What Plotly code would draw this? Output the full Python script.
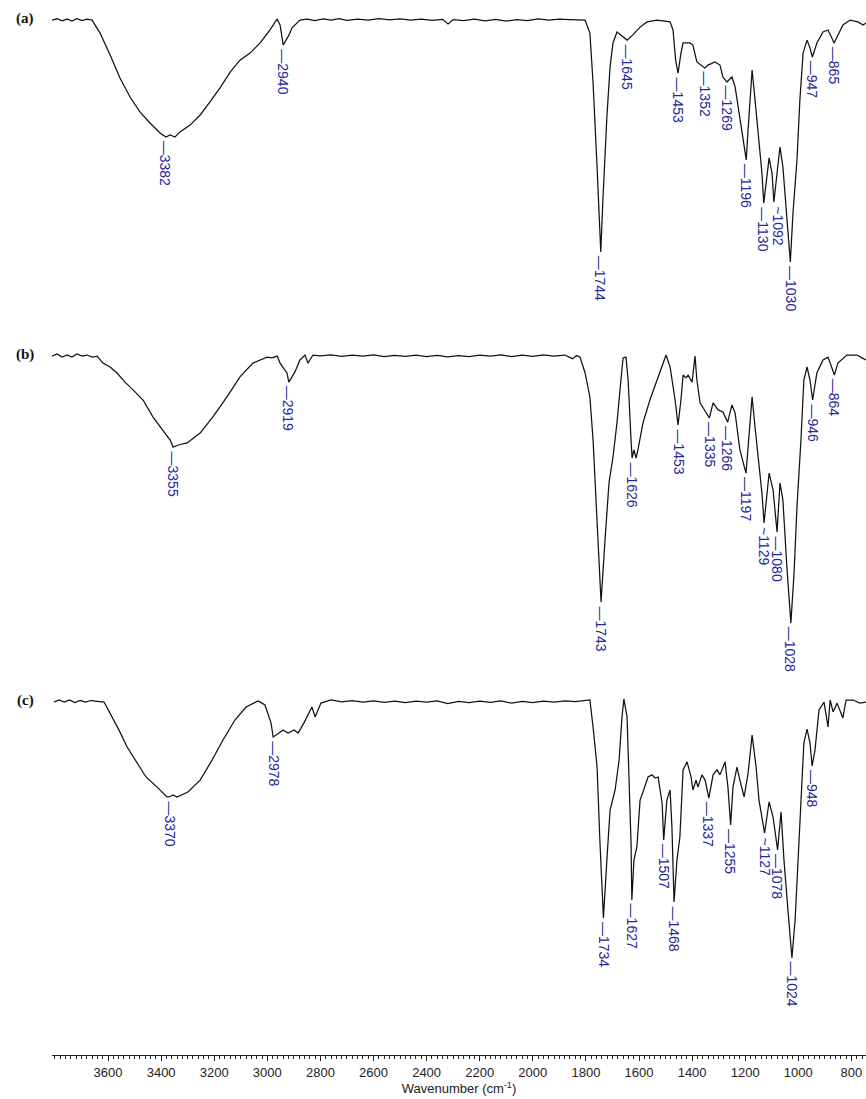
import numpy as np
import plotly.graph_objects as go

# ---------------- data (wavenumber cm-1, relative transmittance) ----------------
wn_a = [3811, 3792, 3773, 3754, 3736, 3717, 3698, 3679, 3660, 3630, 3592, 3555, 3517, 3479, 3442, 3404,
        3382, 3366, 3348, 3329, 3291, 3253, 3216, 3178, 3140, 3103, 3065, 3027, 2990, 2963, 2952, 2940,
        2918, 2907, 2877, 2850, 2820, 2790, 2760, 2730, 2700, 2660, 2620, 2580, 2540, 2500, 2460, 2420,
        2380, 2340, 2319, 2300, 2260, 2220, 2180, 2140, 2100, 2060, 2020, 1980, 1940, 1900, 1860, 1830,
        1803, 1785, 1773, 1758, 1744, 1736, 1721, 1709, 1698, 1683, 1660, 1645, 1623, 1596, 1570, 1532,
        1483, 1472, 1462, 1453, 1442, 1434, 1408, 1397, 1382, 1352, 1340, 1314, 1295, 1284, 1269, 1250,
        1238, 1220, 1196, 1190, 1178, 1174, 1163, 1152, 1137, 1130, 1118, 1110, 1099, 1092, 1080, 1069,
        1058, 1043, 1030, 1020, 1005, 994, 982, 967, 956, 947, 930, 907, 888, 865, 854, 832, 805, 775, 756, 745]
t_a = [99.2, 99.7, 98.9, 99.6, 98.8, 99.7, 99.0, 99.6, 99.2, 94.2, 85.8, 76.9, 69.6, 63.8, 59.6, 55.8,
       54.2, 55.0, 54.2, 56.2, 58.8, 62.7, 67.7, 73.1, 79.2, 83.8, 86.5, 90.4, 95.4, 99.6, 97.3, 89.6,
       93.5, 96.2, 99.2, 99.6, 99.0, 99.7, 99.2, 99.8, 99.1, 99.6, 99.2, 99.8, 99.3, 99.7, 99.2, 99.6,
       99.1, 99.5, 97.7, 99.4, 99.0, 99.6, 98.9, 99.5, 98.8, 99.4, 99.0, 99.7, 99.2, 99.6, 99.4, 99.2,
       99.2, 94.2, 75.0, 42.7, 10.0, 30.0, 61.9, 81.2, 90.4, 94.6, 92.7, 91.5, 93.5, 96.5, 98.5, 99.2,
       98.5, 95.4, 83.8, 78.8, 86.5, 90.4, 90.4, 89.6, 83.1, 80.8, 81.9, 83.1, 81.9, 77.3, 75.4, 77.3,
       73.5, 61.9, 45.4, 55.8, 73.5, 80.0, 68.5, 55.8, 40.4, 28.8, 40.4, 46.2, 40.4, 29.2, 40.4, 50.4,
       42.7, 23.5, 6.2, 25.0, 45.4, 68.5, 86.5, 91.5, 88.5, 85.0, 90.4, 94.6, 95.4, 90.4, 92.7, 97.3, 99.2, 98.5, 97.3, 98.1]

wn_b = [3811, 3792, 3773, 3754, 3736, 3717, 3698, 3679, 3660, 3641, 3619, 3592, 3566, 3536, 3506, 3468,
        3431, 3393, 3366, 3355, 3336, 3302, 3253, 3205, 3152, 3103, 3054, 3001, 2982, 2963, 2952, 2926,
        2919, 2896, 2877, 2858, 2847, 2828, 2800, 2760, 2720, 2680, 2640, 2600, 2560, 2520, 2480, 2440,
        2400, 2360, 2320, 2280, 2240, 2200, 2160, 2120, 2080, 2040, 2000, 1960, 1920, 1880, 1850, 1835,
        1822, 1803, 1785, 1773, 1758, 1743, 1728, 1713, 1698, 1683, 1668, 1660, 1649, 1641, 1630, 1626,
        1619, 1611, 1604, 1585, 1559, 1532, 1498, 1483, 1464, 1453, 1442, 1434, 1423, 1415, 1400, 1389,
        1382, 1370, 1344, 1335, 1321, 1302, 1284, 1266, 1250, 1238, 1220, 1197, 1190, 1178, 1174, 1163,
        1148, 1137, 1129, 1118, 1110, 1095, 1080, 1069, 1058, 1043, 1028, 1016, 1005, 990, 979, 967,
        956, 946, 930, 907, 888, 864, 851, 817, 779, 760, 745]
t_b = [99.2, 100.0, 98.8, 99.6, 98.8, 100.0, 99.2, 99.6, 98.8, 99.2, 96.5, 95.0, 92.7, 89.2, 86.2, 82.3,
       75.8, 70.8, 66.9, 64.2, 65.0, 65.8, 69.6, 75.8, 83.5, 91.2, 96.5, 98.8, 98.5, 99.2, 96.5, 92.7,
       89.2, 93.1, 97.7, 99.6, 96.5, 99.6, 99.3, 99.7, 99.1, 99.6, 99.2, 99.7, 99.0, 99.5, 99.1, 99.6,
       99.0, 99.5, 98.9, 99.4, 99.0, 99.6, 99.2, 99.7, 99.0, 99.6, 99.1, 99.7, 99.2, 99.6, 98.2, 99.4,
       98.8, 92.7, 83.5, 66.9, 35.0, 4.6, 28.5, 50.4, 60.4, 73.5, 90.0, 98.5, 98.8, 90.0, 66.9, 60.0,
       63.1, 60.0, 63.1, 73.5, 82.3, 90.0, 99.6, 95.0, 82.3, 72.7, 82.3, 91.9, 90.8, 91.9, 89.2, 99.2,
       90.0, 81.2, 76.5, 75.4, 81.2, 78.5, 77.7, 73.8, 80.4, 77.3, 63.1, 54.2, 63.1, 77.3, 83.5, 71.9,
       56.5, 46.5, 35.0, 45.0, 54.2, 47.7, 31.5, 50.4, 43.8, 18.1, -3.5, 15.8, 41.2, 66.9, 90.0, 95.0,
       90.0, 82.3, 92.7, 97.7, 98.8, 91.9, 96.5, 99.6, 99.6, 98.5, 97.7]

wn_c = [3803, 3785, 3765, 3745, 3725, 3705, 3685, 3665, 3615, 3585, 3559, 3528, 3498, 3457, 3412, 3378,
        3370, 3355, 3340, 3299, 3253, 3208, 3167, 3122, 3080, 3035, 3020, 3009, 2986, 2978, 2960, 2941,
        2922, 2899, 2884, 2862, 2832, 2820, 2798, 2760, 2720, 2680, 2640, 2600, 2560, 2520, 2480, 2440,
        2400, 2360, 2320, 2280, 2240, 2200, 2160, 2120, 2080, 2040, 2000, 1960, 1920, 1880, 1840, 1810,
        1785, 1773, 1758, 1747, 1734, 1721, 1709, 1690, 1675, 1664, 1657, 1645, 1638, 1630, 1627, 1619,
        1608, 1596, 1585, 1566, 1551, 1540, 1528, 1513, 1507, 1495, 1483, 1476, 1468, 1457, 1446, 1434,
        1419, 1404, 1397, 1385, 1378, 1363, 1351, 1337, 1321, 1306, 1295, 1276, 1265, 1255, 1246, 1231,
        1220, 1204, 1189, 1174, 1159, 1148, 1127, 1110, 1095, 1078, 1065, 1054, 1039, 1024, 1012, 1001,
        990, 979, 967, 956, 948, 937, 922, 903, 888, 880, 869, 854, 832, 820, 794, 768, 745]
t_c = [99.2, 100.0, 99.2, 100.0, 99.0, 99.8, 99.2, 99.8, 99.2, 93.5, 88.5, 81.9, 76.9, 70.4, 66.2, 62.7,
       62.7, 63.5, 62.7, 64.6, 69.2, 76.9, 84.6, 92.3, 97.3, 99.6, 98.8, 98.1, 91.2, 85.8, 87.0, 88.5,
       87.3, 88.5, 87.3, 91.2, 97.3, 93.5, 98.8, 100.0, 99.3, 99.8, 99.2, 99.7, 99.1, 99.6, 99.0, 99.6,
       99.2, 99.7, 98.6, 99.5, 99.0, 99.6, 99.1, 99.7, 98.8, 99.5, 99.0, 99.6, 99.2, 99.7, 99.4, 99.6,
       100.0, 89.6, 74.2, 45.0, 16.2, 38.5, 57.7, 65.4, 76.9, 93.5, 100.4, 93.5, 70.4, 45.0, 23.1, 38.5,
       43.5, 61.5, 64.6, 70.4, 71.2, 70.0, 70.4, 60.4, 46.2, 61.5, 65.4, 51.2, 22.3, 38.5, 47.3, 73.1,
       76.2, 70.4, 65.4, 69.2, 66.5, 71.2, 69.2, 62.3, 71.2, 73.1, 71.2, 76.2, 66.5, 51.9, 66.5, 74.2,
       69.2, 62.7, 71.9, 86.5, 74.2, 61.5, 48.8, 60.8, 55.0, 42.3, 56.9, 38.5, 19.2, 0.8, 15.4, 38.5,
       64.2, 83.5, 88.8, 83.5, 74.6, 80.8, 96.2, 99.2, 89.6, 100.0, 95.4, 98.8, 93.1, 100.0, 100.0, 98.8, 99.2]

peaks_a = [3382, 2940, 1744, 1645, 1453, 1352, 1269, 1196, 1130, 1092, 1030, 947, 865]
peaks_b = [3355, 2919, 1743, 1626, 1453, 1335, 1266, 1197, 1129, 1080, 1028, 946, 864]
peaks_c = [3370, 2978, 1734, 1627, 1507, 1468, 1337, 1255, 1127, 1078, 1024, 948]

tick_values = [3600, 3400, 3200, 3000, 2800, 2600, 2400, 2200, 2000, 1800, 1600, 1400, 1200, 1000, 800]
panel_names = ["(a)", "(b)", "(c)"]

# ---------------- layout geometry ----------------
W, H = 866, 1099
ML, MB = 52, 44
plot_h = H - MB
k = 2.6                      # px per transmittance unit
top = plot_h / k
base_px = [18, 354, 700]     # baseline pixel position of each spectrum
offsets = [top - b / k - 100 for b in base_px]

# label connector style / small horizontal nudges (px) for crowded labels
bent = {(0, 1092): ("~", 4), (0, 1130): ("—", -1), (1, 1129): ("~", 0), (2, 1127): ("~", 0)}

LABEL_COLOR = "#26269a"

fig = go.Figure()
annotations = []
series = [(wn_a, t_a, peaks_a), (wn_b, t_b, peaks_b), (wn_c, t_c, peaks_c)]
for i, (wn, t, pk) in enumerate(series):
    off = offsets[i]
    y = [v + off for v in t]
    fig.add_trace(go.Scatter(x=wn, y=y, mode="lines",
                             line=dict(color="#111111", width=1.25),
                             showlegend=False, hoverinfo="skip"))
    wr = np.array(wn[::-1], dtype=float)
    tr = np.array(t[::-1], dtype=float)
    for p in pk:
        ty = float(np.interp(p, wr, tr)) + off
        dash, xs = bent.get((i, p), ("—", 0))
        annotations.append(dict(
            x=p, y=ty, xref="x", yref="y", text=f"{dash}{p}", textangle=90,
            showarrow=False, xanchor="center", yanchor="top", yshift=-2, xshift=xs,
            font=dict(family="Liberation Sans, Arial", size=14, color=LABEL_COLOR)))
    annotations.append(dict(
        x=-0.033, y=top - (base_px[i]) / k, xref="paper", yref="y",
        text=f"<b>{panel_names[i]}</b>", showarrow=False,
        xanchor="center", yanchor="middle",
        font=dict(family="Liberation Serif, Times New Roman", size=15, color="#111111")))

fig.update_layout(
    width=W, height=H,
    margin=dict(l=ML, r=0, t=0, b=MB),
    paper_bgcolor="white", plot_bgcolor="white",
    annotations=annotations,
    hovermode=False,
    xaxis=dict(
        range=[3811, 745], showgrid=False, zeroline=False,
        showline=True, linecolor="#222222", linewidth=1,
        ticks="outside", ticklen=5, tickwidth=1, tickcolor="#222222",
        tickmode="array", tickvals=tick_values, ticktext=[str(v) for v in tick_values],
        minor=dict(ticks="outside", ticklen=3, tickwidth=1, tickcolor="#222222",
                   tick0=0, dtick=20, showgrid=False),
        tickfont=dict(family="Liberation Sans, Arial", size=13, color="#222222"),
        title=dict(text="Wavenumber (cm<sup>-1</sup>)", standoff=3,
                   font=dict(family="Liberation Sans, Arial", size=13, color="#222222")),
    ),
    yaxis=dict(range=[0, top], visible=False, showgrid=False, zeroline=False),
)

fig.write_html("out.html",
               config={"displayModeBar": False},
               post_script="document.body.style.margin='0';document.body.style.overflow='hidden';")
